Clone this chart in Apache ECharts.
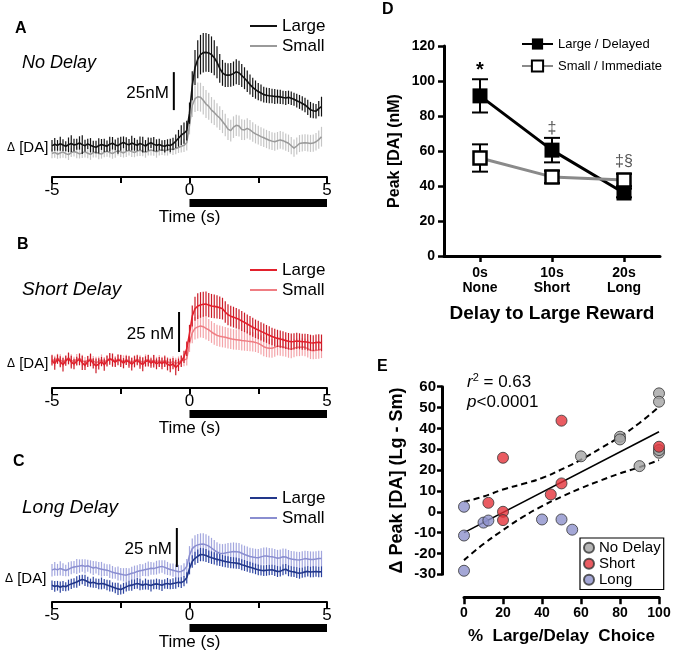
<!DOCTYPE html>
<html><head><meta charset="utf-8">
<script src="https://cdn.jsdelivr.net/npm/echarts@6/dist/echarts.min.js"></script>
<style>html,body{margin:0;padding:0;background:#fff}#c{width:673px;height:660px}</style>
</head><body><div id="c"></div>
<script>
// ---------- DATA ----------
const timeSec = [-5.0,-4.9,-4.8,-4.7,-4.6,-4.5,-4.4,-4.3,-4.2,-4.1,-4.0,-3.9,-3.8,-3.7,-3.6,-3.5,-3.4,-3.3,-3.2,-3.1,-3.0,-2.9,-2.8,-2.7,-2.6,-2.5,-2.4,-2.3,-2.2,-2.1,-2.0,-1.9,-1.8,-1.7,-1.6,-1.5,-1.4,-1.3,-1.2,-1.1,-1.0,-0.9,-0.8,-0.7,-0.6,-0.5,-0.4,-0.3,-0.2,-0.1,0.0,0.1,0.2,0.3,0.4,0.5,0.6,0.7,0.8,0.9,1.0,1.1,1.2,1.3,1.4,1.5,1.6,1.7,1.8,1.9,2.0,2.1,2.2,2.3,2.4,2.5,2.6,2.7,2.8,2.9,3.0,3.1,3.2,3.3,3.4,3.5,3.6,3.7,3.8,3.9,4.0,4.1,4.2,4.3,4.4,4.5,4.6,4.7,4.8];

// Panel A : No Delay (nM, relative)
const noDelayLarge = [0.5,1.5,0.8,1.9,1.0,0.2,1.2,2.0,1.1,1.6, 2.4,1.3,0.6,1.8,0.9,0.1,-0.4,0.5,1.4,0.8, 0.3,1.6,2.2,1.1,0.6,1.9,2.8,1.7,1.2,2.3, 1.5,0.9,2.1,1.3,0.4,1.7,2.5,1.6,0.8,1.4, 0.6,0.2,1.1,0.7,1.8,3.5,5.5,7.5,8.8,10.5,
  22,40,52,57.5,60.5,61.8,62.0,61.6,60.5,58.5, 55.5,51.5,48.5,47.2,47.0,47.2,48.0,49.3,48.5,46.8, 45.0,43.0,40.8,39.0,37.5,36.2,35.3,34.2,33.8,33.5, 33.3,33.0,32.9,32.7,32.3,32.0,32.4,31.8,31.2,30.2, 29.4,28.4,27.4,25.8,24.2,23.6,23.3,25.0,26.3];
const noDelayLargeSem = [3.8,4.2,3.5,4.6,3.9,3.3,4.8,5.5,4.1,3.6, 4.4,6.2,3.9,3.4,4.7,3.8,4.2,5.0,3.6,4.3, 3.7,4.9,4.1,3.5,5.3,4.6,3.9,4.4,3.8,4.8, 4.2,3.6,4.5,5.1,3.9,4.3,3.4,4.7,4.0,3.8, 3.5,4.1,3.7,4.4,4.0,4.5,5.5,6.5,7.0,6.5,
  7.0,9.5,11.5,12.5,13.0,13.0,12.8,12.5,12.0,11.5, 10.5,9.5,8.5,8.0,7.8,7.8,8.0,8.2,8.0,7.6, 7.2,7.0,6.6,6.3,6.0,5.7,5.5,5.2,5.0,5.0, 4.8,4.9,4.6,4.7,4.5,4.6,4.4,4.5,4.3,4.5, 4.6,4.7,4.8,5.0,5.2,5.0,4.8,5.0,6.5];
const noDelaySmall = [-4.5,-3.8,-5.0,-4.2,-3.5,-4.6,-5.3,-4.0,-3.2,-3.9, -4.8,-4.1,-3.3,-4.4,-5.1,-4.0,-3.6,-4.5,-4.9,-3.7, -3.0,-3.9,-4.6,-3.5,-2.8,-3.4,-4.2,-3.1,-2.5,-3.3, -3.9,-3.0,-2.4,-3.1,-3.8,-2.9,-2.2,-2.8,-3.4,-2.6, -2.1,-2.7,-2.3,-1.6,-2.0,-1.2,-0.6,0.2,0.8,2.5,
  14.0,27.0,31.5,32.8,32.5,30.5,28.0,26.5,24.0,22.5, 20.5,18.8,16.5,14.2,11.5,10.5,12.8,14.0,13.6,11.2, 11.0,12.0,11.0,9.6,8.4,7.5,6.6,5.8,5.0,4.2, 3.6,3.2,3.8,4.4,3.9,3.0,2.2,0.6,-1.0,0.4, 2.0,2.4,2.6,2.4,2.1,2.3,3.2,4.6,6.5];
const noDelaySmallSem = [3.2,3.6,3.0,3.4,3.8,3.1,3.5,2.9,3.3,3.7, 3.0,3.4,3.9,3.2,3.6,3.1,3.5,3.8,3.0,3.3, 3.6,3.2,3.4,3.9,3.1,3.5,3.0,3.7,3.3,3.6, 3.1,3.4,3.8,3.2,3.5,3.0,3.6,3.3,3.9,3.2, 3.4,3.1,3.6,3.3,3.5,3.8,3.6,4.0,4.4,5.0,
  6.0,7.5,8.8,9.3,9.5,9.4,9.2,8.9,8.6,8.3, 8.0,7.8,7.6,7.4,7.2,7.1,7.1,7.0,6.9,6.8, 6.7,6.6,6.5,6.4,6.3,6.2,6.2,6.1,6.0,6.0, 5.9,5.9,5.8,5.8,5.8,5.7,5.7,5.7,5.6,5.6, 5.6,5.6,5.5,5.6,5.6,5.7,5.8,6.0,6.5];

// Panel B : Short Delay
const shortLarge = [1.2,-0.8,2.0,0.4,-1.5,1.0,2.4,0.2,-1.0,0.8, 1.9,-0.3,-1.8,0.6,1.5,-0.6,-2.2,-0.9,0.5,-1.4, 0.8,2.2,1.4,0.1,1.6,0.9,-0.5,1.2,0.3,-1.1, 0.4,1.3,-0.2,-1.3,0.6,1.1,-0.4,0.7,-0.9,0.2, -0.7,0.5,-1.2,-2.0,-0.8,-3.2,-1.5,0.6,3.5,8.5,
  18,29,33.5,35.2,35.9,36.3,36.5,35.8,35.3,35.0, 34.7,34.2,33.6,31.5,29.8,28.9,28.3,27.6,26.9,25.9, 25.0,24.0,23.0,22.0,21.0,20.2,19.4,18.6,17.8,17.0, 16.2,15.5,15.0,14.6,14.1,13.6,13.2,12.9,13.1,13.4, 13.2,12.9,12.9,12.6,12.3,12.1,12.4,12.6,12.2];
const shortLargeSem = [3.2,3.8,2.9,3.5,4.2,3.1,3.6,4.0,3.3,2.8, 3.7,4.4,3.0,3.4,3.9,3.2,4.6,3.5,2.9,3.8, 3.3,3.6,4.1,3.0,3.4,3.8,3.2,2.9,3.6,4.0, 3.5,3.1,3.7,4.3,3.2,3.6,3.0,3.9,3.4,3.1, 3.6,3.3,3.8,4.2,3.5,4.8,3.9,3.5,3.8,4.5,
  5.5,6.5,7.5,8.0,8.0,7.8,7.8,7.6,7.5,7.4, 7.2,7.0,6.8,6.7,6.6,6.5,6.5,6.4,6.3,6.2, 6.1,6.0,6.0,5.9,5.8,5.8,5.7,5.7,5.6,5.6, 5.5,5.5,5.4,5.4,5.3,5.3,5.2,5.2,5.1,5.1, 5.0,5.0,5.0,5.1,5.0,4.9,5.0,5.0,5.2];
const shortSmall = [2.0,0.8,2.6,1.5,0.4,1.8,2.9,1.2,0.6,1.9, 2.5,1.1,0.2,1.4,2.2,0.9,-0.3,0.7,1.6,0.4, 1.3,2.4,1.9,0.8,2.1,1.5,0.5,1.7,1.0,0.2, 1.1,2.0,0.9,0.1,1.3,1.8,0.6,1.4,0.5,1.0, 0.3,1.2,0.4,-0.5,0.6,-0.8,0.2,1.0,1.4,2.2,
  12,18.5,21.3,22.2,22.8,22.3,21.3,20.3,19.0,17.9, 16.9,16.4,16.0,15.7,15.2,14.8,14.4,14.2,14.0,13.7, 13.5,13.3,13.1,12.9,12.5,11.9,10.9,9.8,9.2,8.9, 8.8,9.4,10.2,10.0,9.6,9.2,8.6,8.2,8.8,9.4, 9.5,9.6,9.4,8.6,7.6,7.3,7.6,7.8,8.3];
const shortSmallSem = [3.0,3.4,2.8,3.6,3.1,2.7,3.5,3.9,3.0,3.3, 2.9,3.7,3.2,2.8,3.5,3.1,3.8,3.0,3.4,2.9, 3.3,3.0,3.6,3.2,2.8,3.5,3.9,3.1,3.3,2.9, 3.4,3.0,3.5,3.2,3.7,3.1,2.9,3.4,3.0,3.6, 3.2,3.5,3.0,3.4,3.3,3.7,3.5,3.6,3.8,4.2,
  5.5,6.5,7.0,7.2,7.2,7.0,7.0,6.9,6.8,6.8, 6.7,6.6,6.6,6.5,6.5,6.4,6.4,6.3,6.3,6.2, 6.2,6.2,6.1,6.1,6.0,6.0,6.0,6.0,5.9,5.9, 5.9,5.8,5.8,5.8,5.7,5.7,5.7,5.6,5.6,5.6, 5.6,5.5,5.5,5.5,5.5,5.4,5.4,5.5,5.6];

// Panel C : Long Delay
const longLarge = [-0.3,-1.0,-0.6,-1.5,-0.8,-1.2,-0.2,0.6,1.2,1.8, 2.8,3.4,2.9,2.0,1.2,1.6,1.0,0.5,0.9,0.6, -0.1,-0.7,-1.4,-2.0,-2.6,-3.0,-2.2,-1.3,-0.5,-0.2, 0.4,0.9,0.3,-0.2,0.5,0.1,-0.4,0.3,0.6,0.2, -0.3,0.5,0.9,0.4,0.8,1.2,1.6,1.4,2.4,4.5,
  10.5,15,17,18.3,19.4,19.3,18.8,18.0,17.4,16.9, 16.3,15.9,15.4,14.9,14.6,14.3,14.1,13.9,13.6,12.9, 12.4,11.8,11.3,10.8,10.2,9.6,9.3,9.1,9.3,9.5, 9.6,9.1,8.5,8.6,9.6,10.0,9.0,8.5,8.3,7.8, 7.4,7.8,8.3,8.6,8.2,8.4,8.5,8.3,8.4];
const longLargeSem = [3.0,3.4,3.1,3.6,3.2,2.9,3.5,3.3,3.0,3.7, 3.4,3.1,3.6,3.2,2.8,3.5,3.0,3.4,3.8,3.1, 3.3,3.6,3.0,3.4,3.9,3.2,3.5,3.0,3.3,3.6, 3.1,3.4,3.7,3.0,3.5,3.2,3.8,3.1,3.4,3.3, 3.6,3.0,3.5,3.2,3.4,3.7,3.1,3.5,3.3,3.6,
  3.8,4.0,4.2,4.3,4.3,4.2,4.1,4.0,4.0,3.9, 3.9,3.8,3.8,3.7,3.7,3.6,3.6,3.6,3.5,3.5, 3.5,3.4,3.5,3.4,3.4,3.5,3.3,3.4,3.5,3.4, 3.3,3.4,3.5,3.3,3.4,3.3,3.5,3.4,3.3,3.4, 3.5,3.3,3.4,3.3,3.4,3.5,3.3,3.4,3.5];
const longSmall = [9.4,10.2,9.6,10.5,9.8,9.2,10.0,10.9,11.4,11.8, 12.0,12.4,11.8,12.2,11.5,10.8,11.2,10.4,10.0,9.6, 9.4,8.8,8.0,7.6,7.2,6.8,6.4,6.2,6.8,7.4, 7.8,8.5,9.0,9.4,9.8,10.2,10.6,10.4,11.0,11.5, 11.8,11.2,10.5,9.8,9.4,8.9,8.4,8.6,9.5,11.8,
  19.0,23.2,24.8,25.6,26.0,26.2,25.6,24.8,23.6,22.3, 21.0,20.2,20.0,20.4,20.8,21.1,21.3,21.2,21.0,20.2, 19.4,18.8,18.2,17.8,17.5,17.4,17.9,18.4,18.5,18.2, 18.0,17.6,17.0,17.4,18.0,17.8,17.0,16.5,16.3,16.0, 15.9,16.3,16.8,16.6,16.3,16.2,16.5,16.9,16.8];
const longSmallSem = [4.0,4.4,3.8,4.6,4.1,3.7,4.5,4.2,3.9,4.8, 4.3,4.0,4.6,3.8,4.2,4.5,3.9,4.3,4.7,4.0, 3.8,4.4,4.1,3.7,4.5,4.0,4.3,4.6,3.9,4.2, 4.5,4.0,4.4,3.8,4.3,4.7,4.1,3.9,4.4,4.2, 4.0,4.5,4.2,3.8,4.3,4.1,4.4,4.0,4.3,4.8,
  5.8,6.5,6.9,7.0,7.0,6.9,6.8,6.6,6.5,6.4, 6.3,6.2,6.1,6.0,6.0,5.9,5.9,5.8,5.8,5.7, 5.7,5.7,5.6,5.6,5.6,5.5,5.5,5.5,5.5,5.4, 5.4,5.4,5.4,5.3,5.3,5.3,5.3,5.2,5.2,5.2, 5.2,5.2,5.1,5.1,5.1,5.1,5.0,5.0,5.0];

// scale bars (time, from nM, to nM) and reward bar (s)
const scaleBarA = [-0.57, 24, 49];
const scaleBarB = [-0.38, 6.5, 31.5];
const scaleBarC = [-0.46, 11.4, 36.4];
const rewardBar = [0, 5];

// Panel D
const delayLabels = ['0s\nNone', '10s\nShort', '20s\nLong'];
const delayIndex = [0, 1, 2];
const largeDelayedMean = [91.5, 60.5, 36.0];
const largeDelayedSem = [9.5, 7.0, 2.5];
const smallImmediateMean = [56.0, 45.2, 43.4];
const smallImmediateSem = [7.8, 3.5, 3.5];
const sigMarks = ['*', '\u2021', '\u2021\u00a7'];
const sigHeights = [106, 73, 54];

// Panel E
const noDelayChoice = [100, 100, 80, 80, 60, 90, 100, 100];
const noDelayDiff   = [56.8, 52.8, 36.0, 34.7, 26.6, 21.9, 28.3, 29.6];
const shortChoice = [50, 20, 100, 50, 44.5, 12.5, 20, 20];
const shortDiff   = [43.7, 25.9, 31.2, 13.6, 8.3, 4.3, 0.0, -4.0];
const longChoice = [0, 0, 0, 10, 12.5, 40, 50, 55.5];
const longDiff   = [2.4, -11.4, -28.3, -5.2, -4.2, -3.7, -3.7, -8.6];
const fitX = [0, 100];
const fitY = [-10, 38.4];
const bandX = [0, 10, 20, 30, 40, 50, 60, 70, 80, 90, 100];
const bandUpper = [4.8, 7.3, 10.7, 13.3, 16.2, 20.3, 25.0, 30.4, 36.0, 42.6, 50.4];
const bandLower = [-23.2, -15.5, -8.8, -2.6, 2.7, 7.2, 11.3, 15.0, 18.4, 21.4, 24.8];

// ---------- CHART ----------
const FONT = '"Liberation Sans", Arial, Helvetica, sans-serif';
const chart = echarts.init(document.getElementById('c'), null, {renderer: 'canvas'});

const pairs = (xs, ys) => xs.map((x, i) => [x, ys[i]]);
const triples = (xs, ys, es) => xs.map((x, i) => [x, ys[i], es[i]]);

function errBars(color, width) {
  return function (params, api) {
    const x = api.value(0), y = api.value(1), e = api.value(2);
    const a = api.coord([x, y - e]), b = api.coord([x, y + e]);
    return {type: 'line', shape: {x1: a[0], y1: a[1], x2: b[0], y2: b[1]},
      style: {stroke: color, lineWidth: width}};
  };
}
function capBars(color, width, half) {
  return function (params, api) {
    const x = api.value(0), y = api.value(1), e = api.value(2);
    const t = api.coord([x, y + e]), b = api.coord([x, y - e]);
    const st = {stroke: color, lineWidth: width};
    return {type: 'group', children: [
      {type: 'line', shape: {x1: t[0], y1: t[1], x2: b[0], y2: b[1]}, style: st},
      {type: 'line', shape: {x1: t[0] - half, y1: t[1], x2: t[0] + half, y2: t[1]}, style: st},
      {type: 'line', shape: {x1: b[0] - half, y1: b[1], x2: b[0] + half, y2: b[1]}, style: st}
    ]};
  };
}
function scaleRender(label) {
  return function (params, api) {
    const a = api.coord([api.value(0), api.value(1)]);
    const b = api.coord([api.value(0), api.value(2)]);
    return {type: 'group', children: [
      {type: 'line', shape: {x1: a[0], y1: a[1], x2: b[0], y2: b[1]}, style: {stroke: '#000', lineWidth: 2}},
      {type: 'text', x: a[0] - 5, y: (a[1] + b[1]) / 2 + 2,
        style: {text: label, fill: '#000', font: '17px ' + FONT, align: 'right', verticalAlign: 'middle'}}
    ]};
  };
}
function rewardRender(yMin) {
  return function (params, api) {
    const a = api.coord([api.value(0), yMin]);
    const b = api.coord([api.value(1), yMin]);
    return {type: 'rect', shape: {x: a[0], y: a[1] + 22, width: b[0] - a[0], height: 8},
      style: {fill: '#000'}};
  };
}

const traceGrids = [
  {top: 25, height: 152, min: -20, max: 80},
  {top: 266.4, height: 121.6, min: -16, max: 60},
  {top: 522.4, height: 79.6, min: -11, max: 40}
];
const panels = [
  {key: 'A', large: noDelayLarge, largeSem: noDelayLargeSem, small: noDelaySmall, smallSem: noDelaySmallSem,
    cL: '#111111', cLe: '#111111', cS: '#9a9a9a', cSe: '#c6c6c6', bar: scaleBarA, barLabel: '25nM'},
  {key: 'B', large: shortLarge, largeSem: shortLargeSem, small: shortSmall, smallSem: shortSmallSem,
    cL: '#e2202c', cLe: '#cc1b27', cS: '#ef7d83', cSe: '#f4a4a9', bar: scaleBarB, barLabel: '25 nM'},
  {key: 'C', large: longLarge, largeSem: longLargeSem, small: longSmall, smallSem: longSmallSem,
    cL: '#22378a', cLe: '#2b42a0', cS: '#8a8ed0', cSe: '#a2a6de', bar: scaleBarC, barLabel: '25 nM'}
];

const grid = [], xAxis = [], yAxis = [], series = [], legend = [];
const legendTops = [16, 260, 488];

panels.forEach((p, i) => {
  const g = traceGrids[i];
  grid.push({left: 52, width: 275, top: g.top, height: g.height, containLabel: false, outerBoundsMode: 'none'});
  xAxis.push({type: 'value', gridIndex: i, min: -5, max: 5, interval: 2.5,
    axisLine: {show: true, onZero: false, lineStyle: {color: '#000', width: 2}},
    axisTick: {show: true, length: 6, lineStyle: {color: '#000', width: 2}},
    splitLine: {show: false},
    axisLabel: {fontSize: 17, color: '#000', margin: 5, fontFamily: FONT,
      formatter: v => (v === -5 || v === 0 || v === 5) ? String(v) : ''},
    name: 'Time (s)', nameLocation: 'middle', nameGap: 32,
    nameTextStyle: {fontSize: 17, color: '#000', fontFamily: FONT}});
  yAxis.push({type: 'value', gridIndex: i, min: g.min, max: g.max, show: false});
  const ax = {xAxisIndex: i, yAxisIndex: i};
  series.push(Object.assign({type: 'custom', name: p.key + '-Small-err', silent: true, z: 1,
    data: triples(timeSec, p.small, p.smallSem), renderItem: errBars(p.cSe, 1.2)}, ax));
  series.push(Object.assign({type: 'line', name: p.key + '-Small', symbol: 'none', z: 2,
    data: pairs(timeSec, p.small), lineStyle: {color: p.cS, width: 1.5}, itemStyle: {color: p.cS}}, ax));
  series.push(Object.assign({type: 'custom', name: p.key + '-Large-err', silent: true, z: 3,
    data: triples(timeSec, p.large, p.largeSem), renderItem: errBars(p.cLe, 1.2)}, ax));
  series.push(Object.assign({type: 'line', name: p.key + '-Large', symbol: 'none', z: 4,
    data: pairs(timeSec, p.large), lineStyle: {color: p.cL, width: 1.6}, itemStyle: {color: p.cL}}, ax));
  series.push(Object.assign({type: 'custom', silent: true, z: 5, data: [p.bar],
    renderItem: scaleRender(p.barLabel)}, ax));
  series.push(Object.assign({type: 'custom', silent: true, z: 5, data: [rewardBar],
    renderItem: rewardRender(g.min)}, ax));
  legend.push({data: [p.key + '-Large', p.key + '-Small'], orient: 'vertical', left: 250, top: legendTops[i],
    icon: 'rect', itemWidth: 27, itemHeight: 2, itemGap: 0, selectedMode: false, padding: 0,
    formatter: n => n.split('-')[1],
    textStyle: {fontSize: 17, color: '#000', fontFamily: FONT, lineHeight: 20}});
});

// Panel D (category axis, bands of 72 px centred on the three delays)
grid.push({left: 444, width: 216, top: 46, height: 210, containLabel: false, outerBoundsMode: 'none'});
xAxis.push({type: 'category', gridIndex: 3, data: delayLabels, boundaryGap: true,
  axisLine: {show: true, onZero: false, lineStyle: {color: '#000', width: 3}},
  axisTick: {show: true, alignWithLabel: true, length: 6, lineStyle: {color: '#000', width: 2.5}},
  splitLine: {show: false},
  axisLabel: {fontSize: 14, fontWeight: 'bold', color: '#000', margin: 10, lineHeight: 15, fontFamily: FONT},
  name: 'Delay to Large Reward', nameLocation: 'middle', nameGap: 48,
  nameTextStyle: {fontSize: 19, fontWeight: 'bold', color: '#000', fontFamily: FONT}});
yAxis.push({type: 'value', gridIndex: 3, min: 0, max: 120, interval: 20,
  axisLine: {show: true, onZero: false, lineStyle: {color: '#000', width: 3}},
  axisTick: {show: true, length: 6, lineStyle: {color: '#000', width: 2.5}},
  splitLine: {show: false},
  axisLabel: {fontSize: 14, fontWeight: 'bold', color: '#000', margin: 9, fontFamily: FONT},
  name: 'Peak [DA] (nM)', nameLocation: 'middle', nameGap: 41,
  nameTextStyle: {fontSize: 16, fontWeight: 'bold', color: '#000', fontFamily: FONT}});
const axD = {xAxisIndex: 3, yAxisIndex: 3};
series.push(Object.assign({type: 'custom', silent: true, z: 2,
  data: triples(delayIndex, largeDelayedMean, largeDelayedSem), renderItem: capBars('#000', 2, 8)}, axD));
series.push(Object.assign({type: 'line', name: 'Large / Delayed', z: 3, symbol: 'rect', symbolSize: 15,
  data: largeDelayedMean, lineStyle: {color: '#000', width: 3},
  itemStyle: {color: '#000'}}, axD));
series.push(Object.assign({type: 'custom', silent: true, z: 4,
  data: triples(delayIndex, smallImmediateMean, smallImmediateSem), renderItem: capBars('#000', 2, 8)}, axD));
series.push(Object.assign({type: 'line', name: 'Small / Immediate', z: 5, symbol: 'rect', symbolSize: 13,
  data: smallImmediateMean, lineStyle: {color: '#8a8a8a', width: 3},
  itemStyle: {color: '#fff', borderColor: '#000', borderWidth: 2.5}}, axD));
series.push(Object.assign({type: 'custom', silent: true, z: 6,
  data: pairs(delayIndex, sigHeights),
  renderItem: (params, api) => {
    const c = api.coord([api.value(0), api.value(1)]);
    const i = params.dataIndex;
    return {type: 'text', x: c[0], y: c[1],
      style: {text: sigMarks[i], fill: i === 0 ? '#000' : '#555',
        font: (i === 0 ? 'bold 20px ' : '16px ') + FONT, align: 'center', verticalAlign: 'middle'}};
  }}, axD));
legend.push({data: ['Large / Delayed', 'Small / Immediate'], orient: 'vertical', left: 521, top: 33,
  itemWidth: 31, itemHeight: 14, itemGap: 0, selectedMode: false, padding: 0,
  textStyle: {fontSize: 13, color: '#000', fontFamily: FONT, lineHeight: 22}});

// Panel E
grid.push({left: 464, width: 195, top: 386.7, height: 187.6, containLabel: false, outerBoundsMode: 'none'});
xAxis.push({type: 'value', gridIndex: 4, min: 0, max: 100, interval: 20, offset: 23,
  axisLine: {show: true, onZero: false, lineStyle: {color: '#000', width: 3}},
  axisTick: {show: true, length: 7, lineStyle: {color: '#000', width: 2.5}},
  splitLine: {show: false},
  axisLabel: {fontSize: 14, fontWeight: 'bold', color: '#000', margin: 9, fontFamily: FONT},
  name: '%  Large/Delay  Choice', nameLocation: 'middle', nameGap: 31,
  nameTextStyle: {fontSize: 17, fontWeight: 'bold', color: '#000', fontFamily: FONT}});
yAxis.push({type: 'value', gridIndex: 4, min: -30, max: 60, interval: 10, offset: 22,
  axisLine: {show: true, onZero: false, lineStyle: {color: '#000', width: 3}},
  axisTick: {show: true, length: 5, lineStyle: {color: '#000', width: 2.5}},
  splitLine: {show: false},
  axisLabel: {fontSize: 15, fontWeight: 'bold', color: '#000', margin: 6, fontFamily: FONT},
  name: '\u0394 Peak [DA] (Lg - Sm)', nameLocation: 'middle', nameGap: 36,
  nameTextStyle: {fontSize: 18, fontWeight: 'bold', color: '#000', fontFamily: FONT}});
const axE = {xAxisIndex: 4, yAxisIndex: 4};
series.push(Object.assign({type: 'line', silent: true, symbol: 'none', z: 2, data: pairs(fitX, fitY),
  lineStyle: {color: '#000', width: 1.6}}, axE));
series.push(Object.assign({type: 'line', silent: true, symbol: 'none', smooth: true, z: 2,
  data: pairs(bandX, bandUpper), lineStyle: {color: '#000', width: 2, type: [6, 4]}}, axE));
series.push(Object.assign({type: 'line', silent: true, symbol: 'none', smooth: true, z: 2,
  data: pairs(bandX, bandLower), lineStyle: {color: '#000', width: 2, type: [6, 4]}}, axE));
const dotStyle = c => ({color: c, borderColor: '#333', borderWidth: 1});
series.push(Object.assign({type: 'scatter', name: 'No Delay', symbolSize: 11, z: 4, clip: false,
  data: pairs(noDelayChoice, noDelayDiff), itemStyle: dotStyle('#a4a4a4')}, axE));
series.push(Object.assign({type: 'scatter', name: 'Short', symbolSize: 11, z: 4, clip: false,
  data: pairs(shortChoice, shortDiff), itemStyle: dotStyle('#e5333b')}, axE));
series.push(Object.assign({type: 'scatter', name: 'Long', symbolSize: 11, z: 4, clip: false,
  data: pairs(longChoice, longDiff), itemStyle: dotStyle('#8d91cc')}, axE));
legend.push({data: ['No Delay', 'Short', 'Long'], orient: 'vertical', left: 580, top: 538,
  icon: 'circle', itemWidth: 10, itemHeight: 10, itemGap: 0.5, selectedMode: false,
  padding: [2, 3, 2, 3], borderColor: '#000', borderWidth: 1.2, backgroundColor: '#fff',
  textStyle: {fontSize: 15, color: '#000', fontFamily: FONT, lineHeight: 15.5}});

const txt = (x, y, text, font, extra) => Object.assign({type: 'text', x: x, y: y,
  style: Object.assign({text: text, font: font, fill: '#000', verticalAlign: 'middle'}, extra || {})});

const graphic = [
  txt(15, 29, 'A', 'bold 16px ' + FONT),
  txt(17, 245, 'B', 'bold 16px ' + FONT),
  txt(13, 462, 'C', 'bold 16px ' + FONT),
  txt(382, 10, 'D', 'bold 16px ' + FONT),
  txt(377, 367, 'E', 'bold 16px ' + FONT),
  txt(22, 63, 'No Delay', 'italic 18px ' + FONT),
  txt(22, 290, 'Short Delay', 'italic 19px ' + FONT),
  txt(22, 508, 'Long Delay', 'italic 19px ' + FONT),
  {type: 'text', x: 7, y: 148, style: {text: '{d|\u0394} [DA]', font: '15px ' + FONT, fill: '#000', verticalAlign: 'middle',
    rich: {d: {fontSize: 12, fontFamily: FONT}}}},
  {type: 'text', x: 7, y: 364, style: {text: '{d|\u0394} [DA]', font: '15px ' + FONT, fill: '#000', verticalAlign: 'middle',
    rich: {d: {fontSize: 12, fontFamily: FONT}}}},
  {type: 'text', x: 5, y: 579, style: {text: '{d|\u0394} [DA]', font: '15px ' + FONT, fill: '#000', verticalAlign: 'middle',
    rich: {d: {fontSize: 12, fontFamily: FONT}}}},
  {type: 'text', x: 467, y: 382, style: {text: '{i|r}{s|2} = 0.63', font: '17px ' + FONT, fill: '#000', verticalAlign: 'middle',
    rich: {i: {fontStyle: 'italic', fontSize: 17, fontFamily: FONT}, s: {fontSize: 11, fontFamily: FONT, verticalAlign: 'top', padding: [0, 0, 8, 0]}}}},
  {type: 'text', x: 467, y: 402, style: {text: '{i|p}<0.0001', font: '17px ' + FONT, fill: '#000', verticalAlign: 'middle',
    rich: {i: {fontStyle: 'italic', fontSize: 17, fontFamily: FONT}}}}
];

chart.setOption({
  animation: false,
  backgroundColor: '#fff',
  textStyle: {fontFamily: FONT},
  grid: grid, xAxis: xAxis, yAxis: yAxis, series: series, legend: legend,
  graphic: {elements: graphic}
});
</script>
</body></html>
